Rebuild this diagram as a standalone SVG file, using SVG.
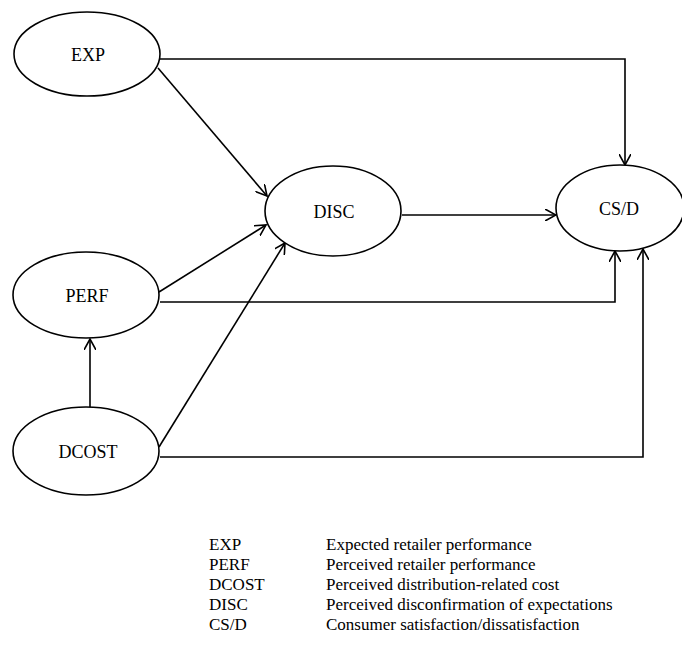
<svg xmlns="http://www.w3.org/2000/svg" width="682" height="650" viewBox="0 0 682 650">
<defs>
<marker id="ah" viewBox="0 0 12 12" refX="11" refY="6" markerWidth="12" markerHeight="12" markerUnits="userSpaceOnUse" orient="auto">
<path d="M0,0 L11,6 L0,12" fill="none" stroke="#000" stroke-width="1.6"/>
</marker>
<style>
.n ellipse{fill:#fff;stroke:#000;stroke-width:1.6}
.n text,.lg text{font-family:"Liberation Serif","Times New Roman",serif;font-size:18px;fill:#000}
.n text{text-anchor:middle}
.lg text{font-size:17px}
#edges path{fill:none;stroke:#000;stroke-width:1.6;marker-end:url(#ah)}
</style>
</defs>
<rect width="682" height="650" fill="#fff"/>
<g id="edges">
<path d="M160,59 H625 V165"/>
<path d="M158,68 L267,196"/>
<path d="M402,215 H556"/>
<path d="M159,292 L266,225"/>
<path d="M160,302 H615 V251"/>
<path d="M90,408 V339"/>
<path d="M159,447 L285,243"/>
<path d="M160,457 H643 V249"/>
</g>
<g id="EXP" class="n"><ellipse cx="87" cy="54" rx="73" ry="42"/><text x="88" y="61">EXP</text></g>
<g id="DISC" class="n"><ellipse cx="333" cy="211" rx="68" ry="45"/><text x="334" y="218">DISC</text></g>
<g id="CSD" class="n"><ellipse cx="620" cy="208" rx="64" ry="43"/><text x="619" y="215">CS/D</text></g>
<g id="PERF" class="n"><ellipse cx="86" cy="295" rx="73" ry="43"/><text x="87" y="302">PERF</text></g>
<g id="DCOST" class="n"><ellipse cx="86" cy="451" rx="73" ry="44"/><text x="88" y="458">DCOST</text></g>
<g id="legend" class="lg">
<text x="209" y="550">EXP</text><text x="326" y="550">Expected retailer performance</text>
<text x="209" y="570">PERF</text><text x="326" y="570">Perceived retailer performance</text>
<text x="209" y="590">DCOST</text><text x="326" y="590">Perceived distribution-related cost</text>
<text x="209" y="610">DISC</text><text x="326" y="610">Perceived disconfirmation of expectations</text>
<text x="209" y="630">CS/D</text><text x="326" y="630">Consumer satisfaction/dissatisfaction</text>
</g>
</svg>
